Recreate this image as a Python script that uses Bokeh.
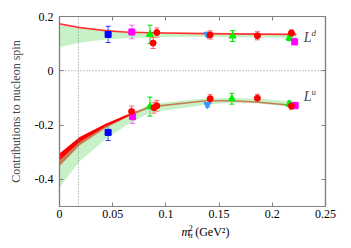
from bokeh.plotting import figure
from bokeh.layouts import column
from bokeh.models import (ColumnDataSource, LinearAxis, FixedTicker, CustomJSTickFormatter,
                          Span, Label, Whisker, TeeHead, Range1d)
from bokeh.core.properties import value
from bokeh.embed import file_html
from bokeh.resources import INLINE

FONT = "Liberation Serif"

# ---- fit bands ----
band_x = [0.0, 0.019, 0.043, 0.061, 0.085, 0.138, 0.16, 0.185, 0.2225]
ld_red_hi = [0.176, 0.162, 0.151, 0.146, 0.143, 0.140, 0.139, 0.138, 0.137]
ld_red_lo = [0.170, 0.156, 0.145, 0.140, 0.137, 0.134, 0.133, 0.132, 0.131]
ld_grn_hi = [0.168, 0.155, 0.146, 0.142, 0.139, 0.136, 0.135, 0.134, 0.133]
ld_grn_lo = [0.088, 0.103, 0.115, 0.120, 0.124, 0.125, 0.124, 0.123, 0.121]
lu_red_hi = [-0.305, -0.244, -0.196, -0.166, -0.130, -0.108, -0.108, -0.112, -0.126]
lu_red_lo = [-0.352, -0.274, -0.212, -0.176, -0.136, -0.113, -0.113, -0.118, -0.132]
lu_grn_hi = [-0.330, -0.262, -0.205, -0.175, -0.122, -0.101, -0.100, -0.102, -0.115]
lu_grn_lo = [-0.430, -0.333, -0.253, -0.205, -0.154, -0.125, -0.118, -0.120, -0.135]

# ---- lattice points: (x, y, err) ----
blue_sq_x = [0.0457, 0.0457]
blue_sq_y = [0.134, -0.227]
blue_sq_e = [0.030, 0.030]

mag_x = [0.068, 0.221, 0.0687, 0.2215]
mag_y = [0.143, 0.107, -0.169, -0.128]
mag_e = [0.025, 0.012, 0.025, 0.012]

grn_x = [0.085, 0.1627, 0.216, 0.085, 0.162, 0.216]
grn_y = [0.134, 0.128, 0.121, -0.132, -0.103, -0.122]
grn_e = [0.034, 0.020, 0.010, 0.035, 0.020, 0.010]

red_x = [0.088, 0.0915, 0.1416, 0.186, 0.218, 0.0677, 0.0887, 0.0915, 0.1416, 0.186, 0.218]
red_y = [0.102, 0.141, 0.132, 0.129, 0.139, -0.150, -0.136, -0.129, -0.103, -0.101, -0.130]
red_e = [0.020, 0.017, 0.015, 0.015, 0.012, 0.020, 0.020, 0.020, 0.015, 0.015, 0.012]

lb_x = [0.139, 0.139]
lb_y = [0.134, -0.125]
lb_e = [0.008, 0.008]

x_ticks = [0, 0.05, 0.1, 0.15, 0.2, 0.25]
y_ticks = [-0.4, -0.2, 0, 0.2]
m_phys = 0.0178

p = figure(frame_width=266, frame_height=190, min_border_left=59, min_border_right=24,
           min_border_top=16, min_border_bottom=18,
           x_range=Range1d(0, 0.25), y_range=Range1d(-0.5, 0.2),
           output_backend="svg", toolbar_location=None,
           x_axis_location=None, y_axis_location=None)
p.xgrid.visible = False
p.ygrid.visible = False
p.outline_line_color = "#808080"
p.outline_line_width = 1.2
p.background_fill_color = "white"
p.border_fill_color = "white"

fmt = CustomJSTickFormatter(code="return Number(tick.toFixed(2)).toString();")
blank = CustomJSTickFormatter(code="return '';")

def mk_axis(ticks, show_labels, label=""):
    ax = LinearAxis(ticker=FixedTicker(ticks=ticks), formatter=fmt if show_labels else blank)
    ax.axis_line_color = "#808080"
    ax.axis_line_width = 1.2
    ax.major_tick_line_color = "#808080"
    ax.major_tick_in = 4
    ax.major_tick_out = 0
    ax.minor_tick_line_color = None
    ax.major_label_text_font = FONT
    ax.major_label_text_font_size = "12px"
    ax.major_label_text_color = "black"
    ax.axis_label = label
    ax.axis_label_text_font = FONT
    ax.axis_label_text_font_style = "normal"
    ax.axis_label_text_font_size = "12px"
    return ax

bx = mk_axis(x_ticks, True)
bx.major_label_standoff = 3
p.add_layout(bx, "below")
ly = mk_axis(y_ticks, True, "Contributions to nucleon spin")
ly.major_label_standoff = 6
ly.axis_label_standoff = 9
p.add_layout(ly, "left")
tx = mk_axis(x_ticks, False)
tx.major_label_standoff = 0
p.add_layout(tx, "above")
ry = mk_axis(y_ticks, False)
ry.major_label_standoff = 0
p.add_layout(ry, "right")

# dotted reference lines
p.add_layout(Span(location=0, dimension="width", line_color="#888888", line_dash="1 2", line_width=1))
p.add_layout(Span(location=m_phys, dimension="height", line_color="#888888", line_dash="1 2", line_width=1))

# bands
p.varea(x=band_x, y1=lu_red_lo, y2=lu_red_hi, fill_color="#ff0000")
p.varea(x=band_x, y1=lu_grn_lo, y2=lu_grn_hi, fill_color="#99e699", fill_alpha=0.55)
p.varea(x=band_x, y1=ld_grn_lo, y2=ld_grn_hi, fill_color="#99e699", fill_alpha=0.55)
p.varea(x=band_x, y1=ld_red_lo, y2=ld_red_hi, fill_color="#ff0000", fill_alpha=0.8)

def points(xs, ys, es, color, ecolor, marker, size):
    src = ColumnDataSource(dict(x=xs, y=ys, lo=[y - e for y, e in zip(ys, es)],
                                hi=[y + e for y, e in zip(ys, es)]))
    w = Whisker(base="x", lower="lo", upper="hi", source=src, dimension="height",
                line_color=ecolor, line_width=1,
                lower_head=TeeHead(size=5, line_color=ecolor, line_width=1),
                upper_head=TeeHead(size=5, line_color=ecolor, line_width=1))
    p.add_layout(w)
    p.scatter(x="x", y="y", source=src, marker=marker, size=size,
              fill_color=color, line_color=color)

points(grn_x, grn_y, grn_e, "#00ee00", "#00dd00", "triangle", 7)
points(lb_x, lb_y, lb_e, "#3399ff", "#3399ff", "inverted_triangle", 7)
points(mag_x, mag_y, mag_e, "#ff00ff", "#ff66ff", "square", 6)
points(blue_sq_x, blue_sq_y, blue_sq_e, "#0000ff", "#3333ff", "square", 6)
points(red_x, red_y, red_e, "#ff0000", "#ff6666", "circle", 6)

# curve labels
for ytxt, sup in [(0.124, "d"), (-0.095, "u")]:
    p.add_layout(Label(x=0.2295, y=ytxt, text="L", text_font=FONT, text_font_style="italic",
                       text_font_size="14px", text_baseline="middle", text_align="left"))
    p.add_layout(Label(x=0.2368, y=ytxt + 0.016, text=sup, text_font=FONT, text_font_style="italic",
                       text_font_size="9px", text_baseline="middle", text_align="left"))

# x axis label m_pi^2 (GeV^2), drawn in a thin strip below the plot
p2 = figure(width=349, height=23, x_range=Range1d(0, 349), y_range=Range1d(0, 23),
            min_border=0, output_backend="svg", toolbar_location=None,
            x_axis_location=None, y_axis_location=None)
p2.xgrid.visible = False
p2.ygrid.visible = False
p2.outline_line_color = None
p2.border_fill_color = "white"
p2.text(x=[160], y=[16], text=["m"], text_font=value(FONT), text_font_style="italic",
        text_font_size=value("12px"), text_baseline="middle", text_align="left")
p2.text(x=[169.5], y=[12], text=["π"], text_font=value(FONT), text_font_style="italic",
        text_font_size=value("8px"), text_baseline="middle", text_align="left")
p2.text(x=[169.5], y=[20], text=["2"], text_font=value(FONT),
        text_font_size=value("8px"), text_baseline="middle", text_align="left")
p2.text(x=[178], y=[16], text=["(GeV²)"], text_font=value(FONT),
        text_font_size=value("12px"), text_baseline="middle", text_align="left")

layout = column(p, p2, spacing=0)
open("out.html", "w").write(file_html(layout, INLINE))
